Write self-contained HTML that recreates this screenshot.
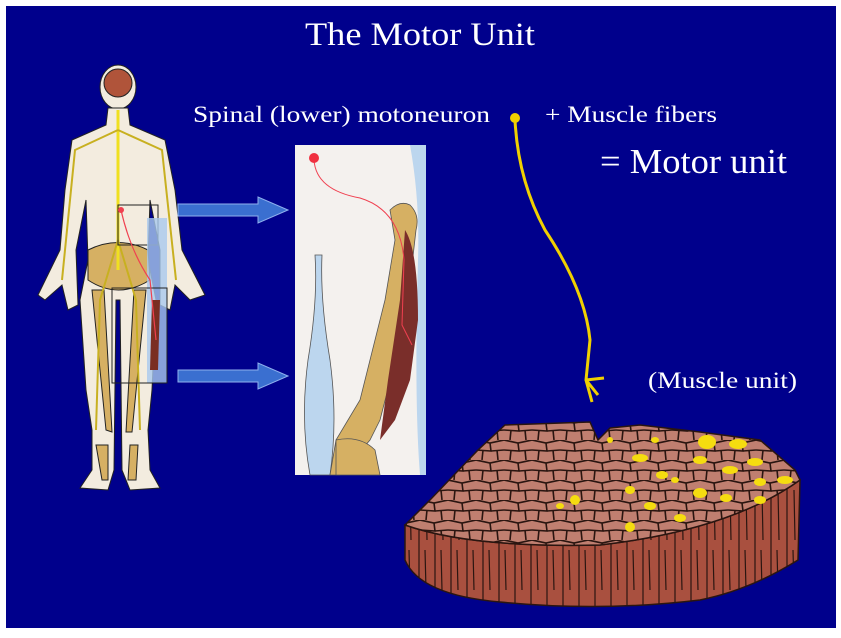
<!DOCTYPE html>
<html><head><meta charset="utf-8"><style>
html,body{margin:0;padding:0;background:#fff;}
body{width:841px;height:638px;overflow:hidden;position:relative;}
svg{position:absolute;left:0;top:0;}
text{font-family:"Liberation Serif",serif;fill:#fff;}
</style></head><body>
<svg width="841" height="638" viewBox="0 0 841 638">
<defs>
<pattern id="cells" width="28" height="20" patternUnits="userSpaceOnUse">
<rect width="28" height="20" fill="#c07f70"/>
<path d="M0 0 L14 3 L28 0 M14 3 L15 11 L0 10 M15 11 L28 10 M7 10 L6 20 M21 10 L22 20" stroke="#2a1510" stroke-width="1.6" fill="none"/>
</pattern>
<pattern id="fibers" width="16" height="120" patternUnits="userSpaceOnUse">
<rect width="16" height="120" fill="#a9503f"/>
<path d="M3 0 L3 120 M10 10 L11 60 M9 70 L10 110" stroke="#2a1510" stroke-width="1.2"/>
</pattern>
</defs>
<rect x="6" y="6" width="830" height="622" fill="#00008c"/>

<text x="305" y="45" font-size="33" textLength="230" lengthAdjust="spacingAndGlyphs">The Motor Unit</text>
<text x="193" y="122" font-size="23" textLength="297" lengthAdjust="spacingAndGlyphs">Spinal (lower) motoneuron</text>
<text x="545" y="122" font-size="23" textLength="172" lengthAdjust="spacingAndGlyphs">+ Muscle fibers</text>
<text x="600" y="173" font-size="35" textLength="187" lengthAdjust="spacingAndGlyphs">= Motor unit</text>
<text x="648" y="388" font-size="23" textLength="149" lengthAdjust="spacingAndGlyphs">(Muscle unit)</text>

<!-- body figure -->
<g stroke="#222" stroke-width="1">
<ellipse cx="118" cy="87" rx="18" ry="22" fill="#f3ecdf"/>
<ellipse cx="118" cy="83" rx="14" ry="14" fill="#b0543a"/>
<path d="M108 108 L128 108 L130 125 L165 140 L175 190 L182 250 L205 295 L190 300 L175 285 L170 310 L160 305 L160 250 L150 200 L148 260 L156 300 L152 390 L148 430 L150 470 L160 488 L130 490 L122 470 L120 300 L116 300 L114 470 L108 490 L80 488 L92 470 L92 430 L86 390 L80 300 L88 260 L86 200 L76 250 L78 305 L68 310 L62 285 L45 300 L38 295 L60 250 L65 190 L72 140 L106 125 Z" fill="#f3ecdf"/>
<path d="M88 250 Q118 235 148 250 L150 280 Q118 300 88 280 Z" fill="#d6b063"/>
<path d="M92 290 L106 430 L112 432 L104 290 Z M134 290 L126 432 L132 432 L146 290 Z M96 445 L102 480 L108 480 L108 445 Z M130 445 L128 480 L136 480 L138 445 Z" fill="#d6b063"/>
</g>
<path d="M118 110 L118 270" stroke="#f0e020" stroke-width="3"/>
<path d="M118 130 L75 150 L62 280 M118 130 L162 150 L176 280 M118 240 L100 300 L96 430 M118 240 L136 300 L140 430" stroke="#c8b020" stroke-width="2" fill="none"/>
<rect x="118" y="205" width="40" height="40" fill="none" stroke="#222"/>
<rect x="147" y="218" width="20" height="165" fill="#a9c9ee" opacity=".8"/>
<rect x="112" y="288" width="55" height="95" fill="none" stroke="#222"/>
<path d="M152 300 L160 300 L158 370 L150 370 Z" fill="#7a2e22"/>
<path d="M121 210 Q130 250 150 280 L156 340" stroke="#f04050" stroke-width="1.2" fill="none"/>
<circle cx="121" cy="210" r="3" fill="#f04050"/>

<!-- arrows -->
<g fill="#3a6fd0" stroke="#8fb0ee" stroke-width="1">
<path d="M178 204 L258 204 L258 197 L288 210 L258 223 L258 216 L178 216 Z"/>
<path d="M178 370 L258 370 L258 363 L288 376 L258 389 L258 382 L178 382 Z"/>
</g>

<!-- panel -->
<rect x="295" y="145" width="131" height="330" fill="#f4f1ee"/>
<path d="M410 145 Q420 200 418 260 Q414 400 420 475 L426 475 L426 145 Z" fill="#bcd6ee"/>
<path d="M315 255 Q318 300 308 360 Q300 420 310 475 L330 475 Q338 420 330 360 Q320 300 322 255 Z" fill="#bcd6ee" stroke="#555" stroke-width=".8"/>
<path d="M390 210 Q400 200 410 205 Q420 215 416 230 L408 300 L398 350 L380 420 L370 440 L340 475 L330 475 L336 440 L360 400 L385 300 L395 240 Z" fill="#d6b063" stroke="#555" stroke-width=".8"/>
<path d="M405 230 Q418 250 418 320 L410 380 L395 420 L380 440 L388 380 L400 300 Z" fill="#7a2e2a"/>
<path d="M336 440 Q360 435 375 450 L380 475 L336 475 Z" fill="#d6b063" stroke="#555" stroke-width=".8"/>
<path d="M314 160 Q316 190 360 198 Q400 210 404 260 L402 325 L412 345" stroke="#f04050" stroke-width="1" fill="none"/>
<circle cx="314" cy="158" r="5" fill="#f03040"/>

<!-- yellow neuron -->
<path d="M515 120 Q518 180 545 230 Q585 290 590 340 L586 380 L598 395 M586 380 L592 402 M586 380 L604 378" stroke="#f0d000" stroke-width="3" fill="none"/>
<circle cx="515" cy="118" r="5" fill="#f0d000"/>

<!-- muscle block -->
<path d="M405 525 Q470 548 600 545 Q730 530 800 480 L798 560 Q750 590 700 600 Q600 612 500 602 Q420 595 405 560 Z" fill="url(#fibers)" stroke="#2a1510" stroke-width="1.5"/>
<path d="M405 525 L430 500 L478 450 L505 425 L590 422 L598 440 L610 428 L640 425 L700 432 L760 440 L795 470 L800 480 Q730 530 600 545 Q470 548 405 525 Z" fill="url(#cells)" stroke="#2a1510" stroke-width="1.5"/>
<g fill="#f5dc10">
<ellipse cx="707" cy="442" rx="9" ry="7"/><ellipse cx="738" cy="444" rx="9" ry="5"/><ellipse cx="755" cy="462" rx="8" ry="4"/>
<ellipse cx="640" cy="458" rx="8" ry="4"/><ellipse cx="700" cy="460" rx="7" ry="4"/><ellipse cx="730" cy="470" rx="8" ry="4"/>
<ellipse cx="760" cy="482" rx="6" ry="4"/><ellipse cx="785" cy="480" rx="8" ry="4"/><ellipse cx="662" cy="475" rx="6" ry="4"/>
<ellipse cx="700" cy="493" rx="7" ry="5"/><ellipse cx="726" cy="498" rx="6" ry="4"/><ellipse cx="760" cy="500" rx="6" ry="4"/>
<ellipse cx="575" cy="500" rx="5" ry="5"/><ellipse cx="630" cy="490" rx="5" ry="4"/><ellipse cx="650" cy="506" rx="6" ry="4"/>
<ellipse cx="680" cy="518" rx="6" ry="4"/><ellipse cx="630" cy="527" rx="5" ry="5"/><ellipse cx="560" cy="506" rx="4" ry="3"/>
<ellipse cx="610" cy="440" rx="3" ry="3"/><ellipse cx="655" cy="440" rx="4" ry="3"/><ellipse cx="675" cy="480" rx="4" ry="3"/>
</g>
</svg>
</body></html>
